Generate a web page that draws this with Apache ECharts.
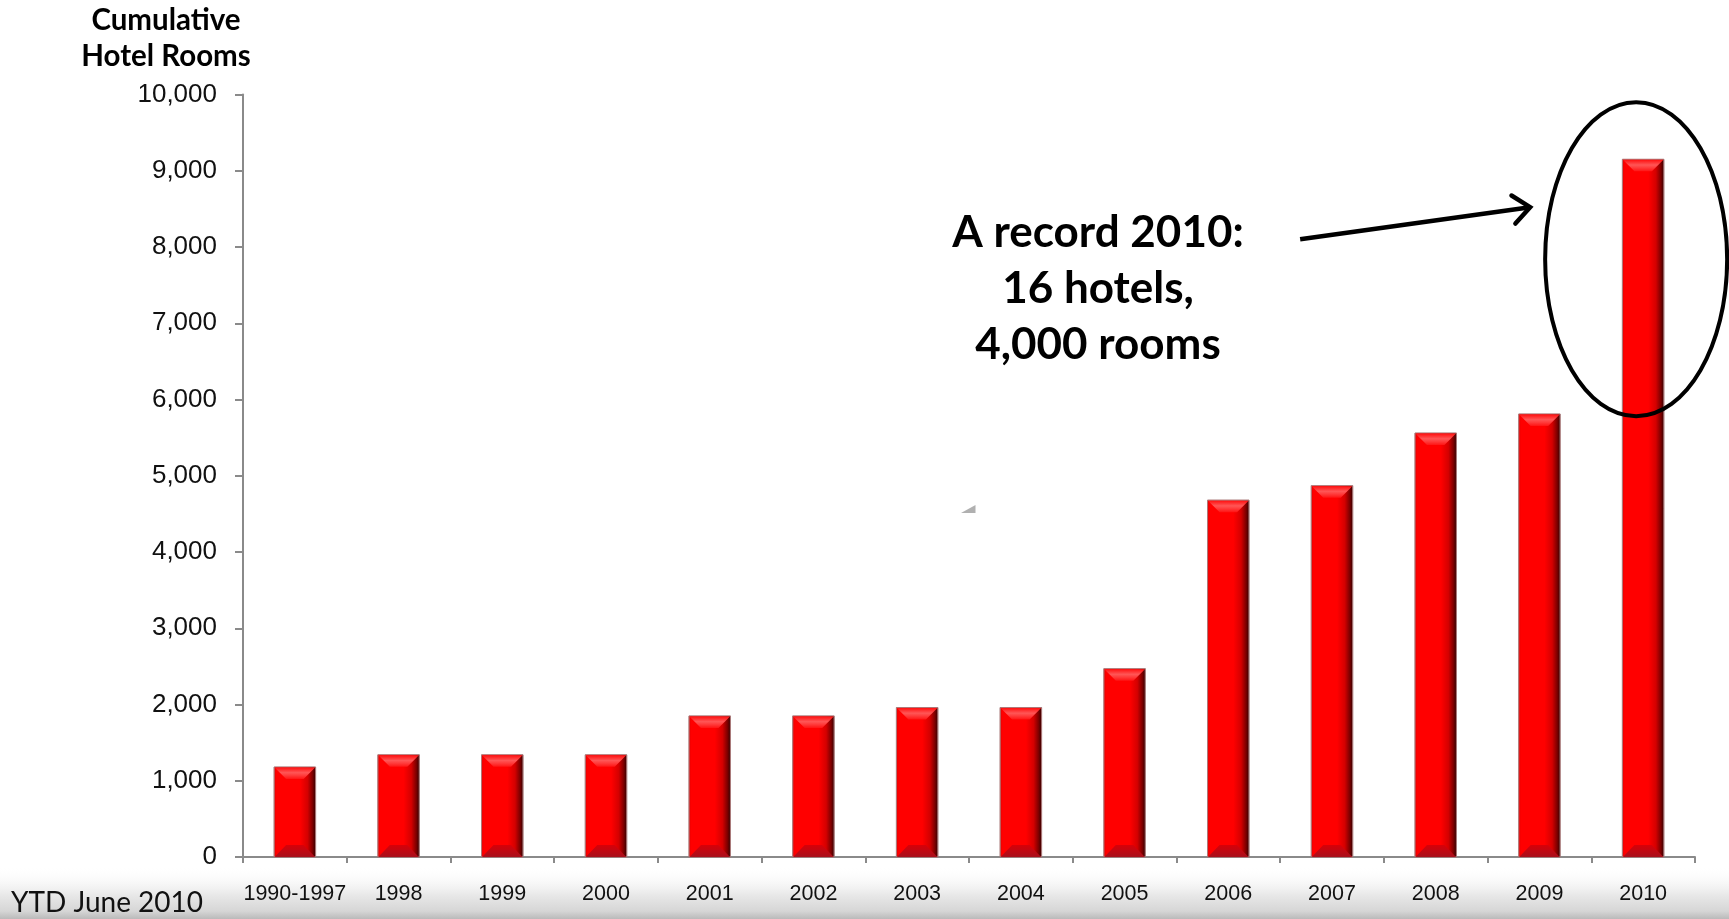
<!DOCTYPE html>
<html>
<head>
<meta charset="utf-8">
<title>Cumulative Hotel Rooms</title>
<script src="https://cdn.jsdelivr.net/npm/echarts@6/dist/echarts.min.js"></script>
<style>
  html, body { margin: 0; padding: 0; background: #ffffff; }
  #chart { width: 1729px; height: 919px; }
</style>
</head>
<body>
<div id="chart"></div>
<script>
// Chart data
const categories = ['1990-1997', '1998', '1999', '2000', '2001', '2002', '2003',
                    '2004', '2005', '2006', '2007', '2008', '2009', '2010'];
const cumulativeRooms = [1180, 1340, 1340, 1340, 1850, 1850, 1960,
                         1960, 2470, 4680, 4870, 5560, 5810, 9150];
const yMin = 0;
const yMax = 10000;
const yStep = 1000;
const yAxisTitle = ['Cumulative', 'Hotel Rooms'];
const calloutLines = ['A record 2010:', '16 hotels,', '4,000 rooms'];
const footnote = 'YTD June 2010';
// the highlighted category and the value at the middle of its ring
const highlightIndex = 13;
const ringCentreValue = 7840;

const AXIS_GREY = '#8a8a8a';
const BOLD_FONT = 'Lato';

function withCommas(v) {
  return String(v).replace(/\B(?=(\d{3})+(?!\d))/g, ',');
}

// Bevelled red column drawn through the grid's own scales
function renderBevelBar(params, api) {
  const idx = api.value(0);
  const val = api.value(1);
  const top = api.coord([idx, val]);
  const base = api.coord([idx, 0]);
  const band = api.size([1, 0])[0];
  const w = band * 0.4;
  const x0 = top[0] - w / 2;
  const x1 = x0 + w;
  const y0 = top[1];
  const y1 = base[1];
  const h = y1 - y0;
  const b = Math.min(12, h / 2, w / 2);

  return {
    type: 'group',
    children: [
      {
        type: 'rect',
        shape: { x: x0, y: y0, width: w, height: h },
        style: {
          fill: new echarts.graphic.LinearGradient(0, 0, 1, 0, [
            { offset: 0, color: '#e40000' },
            { offset: 0.07, color: '#ff0000' },
            { offset: 0.62, color: '#ff0000' },
            { offset: 0.80, color: '#d40000' },
            { offset: 0.92, color: '#7a0000' },
            { offset: 1, color: '#2a0000' }
          ]),
          stroke: 'rgba(170,120,120,0.75)',
          lineWidth: 1
        }
      },
      {
        type: 'polygon',
        shape: { points: [[x0 + 0.5, y0 + 0.5], [x1 - 0.5, y0 + 0.5], [x1 - b, y0 + b], [x0 + b, y0 + b]] },
        style: {
          fill: new echarts.graphic.LinearGradient(0, 0, 0, 1, [
            { offset: 0, color: '#ff1010' },
            { offset: 0.45, color: '#ff5656' },
            { offset: 0.7, color: '#ff3a3a' },
            { offset: 1, color: '#ff1414' }
          ])
        }
      },
      {
        type: 'polygon',
        shape: { points: [[x0 + 0.5, y1], [x1 - 0.5, y1], [x1 - b, y1 - b], [x0 + b, y1 - b]] },
        style: {
          fill: new echarts.graphic.LinearGradient(0, 0, 0, 1, [
            { offset: 0, color: '#d80008' },
            { offset: 1, color: '#a8101c' }
          ])
        }
      }
    ]
  };
}

const chart = echarts.init(document.getElementById('chart'), null, { renderer: 'canvas' });

const option = {
  backgroundColor: '#ffffff',
  animation: false,
  grid: { left: 243, right: 34, top: 94.5, bottom: 62, containLabel: false },
  xAxis: {
    type: 'category',
    data: categories,
    boundaryGap: true,
    axisLine: { show: true, lineStyle: { color: AXIS_GREY, width: 2 } },
    axisTick: { show: true, length: 6, inside: false, lineStyle: { color: AXIS_GREY, width: 2 } },
    axisLabel: {
      margin: 26,
      color: '#111111',
      fontFamily: 'Liberation Sans, Arial, sans-serif',
      fontSize: 21.5,
      interval: 0
    },
    splitLine: { show: false }
  },
  yAxis: {
    type: 'value',
    min: yMin,
    max: yMax,
    interval: yStep,
    axisLine: { show: true, lineStyle: { color: AXIS_GREY, width: 2 } },
    axisTick: { show: true, length: 8, inside: false, lineStyle: { color: AXIS_GREY, width: 2 } },
    axisLabel: {
      margin: 26,
      color: '#111111',
      fontFamily: 'Liberation Sans, Arial, sans-serif',
      fontSize: 26,
      formatter: withCommas
    },
    splitLine: { show: false }
  },
  series: [
    {
      type: 'custom',
      name: 'Cumulative Hotel Rooms',
      renderItem: renderBevelBar,
      encode: { x: 0, y: 1 },
      data: cumulativeRooms.map((v, i) => [i, v]),
      z: 3
    }
  ]
};

chart.setOption(option);

// Annotations placed relative to the highlighted column
const ring = chart.convertToPixel({ seriesIndex: 0 }, [highlightIndex, ringCentreValue]);
const ringCx = ring[0] - 7;
const ringCy = ring[1];
const ringRx = 91;
const ringRy = 157;

const tip = [ringCx - 106, ringCy - 52];
const tail = [tip[0] - 230, tip[1] + 32];
const dx = tip[0] - tail[0], dy = tip[1] - tail[1];
const len = Math.hypot(dx, dy);
const ux = dx / len, uy = dy / len;
function arm(angleDeg, l) {
  const a = angleDeg * Math.PI / 180;
  const rx = ux * Math.cos(a) - uy * Math.sin(a);
  const ry = ux * Math.sin(a) + uy * Math.cos(a);
  return [tip[0] - rx * l, tip[1] - ry * l];
}

chart.setOption({
  graphic: [
    {
      type: 'rect',
      z: 0,
      silent: true,
      shape: { x: 0, y: 866, width: 1729, height: 53 },
      style: {
        fill: new echarts.graphic.LinearGradient(0, 0, 0, 1, [
          { offset: 0, color: 'rgba(255,255,255,0)' },
          { offset: 0.55, color: 'rgba(232,232,232,1)' },
          { offset: 0.85, color: 'rgba(214,214,214,1)' },
          { offset: 1, color: 'rgba(186,186,186,1)' }
        ])
      }
    },
    {
      type: 'text',
      z: 10,
      left: 11,
      top: 889,
      style: {
        text: footnote,
        fontFamily: BOLD_FONT,
        fontWeight: 'normal',
        fontSize: 28,
        fill: '#111111'
      }
    },
    {
      type: 'text',
      z: 10,
      x: 166,
      y: 2,
      style: {
        text: yAxisTitle.join('\n'),
        fontFamily: BOLD_FONT,
        fontWeight: 'bold',
        fontSize: 29.5,
        lineHeight: 36.5,
        align: 'center',
        verticalAlign: 'top',
        fill: '#000000'
      }
    },
    {
      type: 'text',
      z: 10,
      x: 1098,
      y: 205,
      style: {
        text: calloutLines.join('\n'),
        fontFamily: BOLD_FONT,
        fontWeight: 'bold',
        fontSize: 44,
        lineHeight: 56,
        align: 'center',
        verticalAlign: 'top',
        fill: '#000000'
      }
    },
    {
      type: 'ellipse',
      z: 10,
      silent: true,
      shape: { cx: ringCx, cy: ringCy, rx: ringRx, ry: ringRy },
      style: { fill: 'none', stroke: '#000000', lineWidth: 4 }
    },
    {
      type: 'polyline',
      z: 10,
      silent: true,
      shape: { points: [tail, tip] },
      style: { stroke: '#000000', lineWidth: 4.5, lineCap: 'butt' }
    },
    {
      type: 'polyline',
      z: 10,
      silent: true,
      shape: { points: [arm(40, 22), tip, arm(-40, 22)] },
      style: { stroke: '#000000', lineWidth: 4.5, lineCap: 'round', lineJoin: 'miter', fill: 'none' }
    },
    {
      type: 'polygon',
      z: 10,
      silent: true,
      shape: { points: [[961, 513], [975.5, 513], [975.5, 505]] },
      style: { fill: 'rgba(150,150,150,0.75)' }
    }
  ]
});
</script>
</body>
</html>
